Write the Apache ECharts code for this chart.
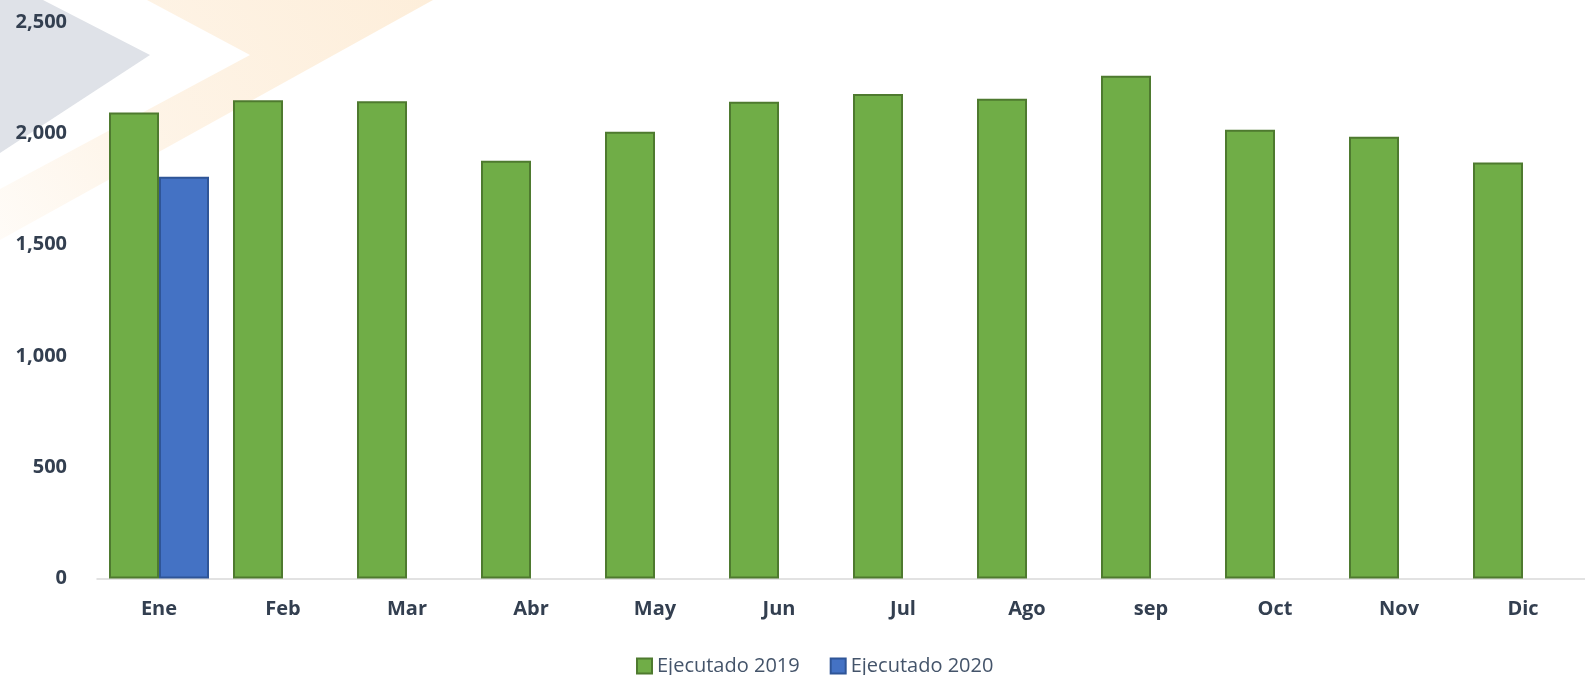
<!DOCTYPE html>
<html>
<head>
<meta charset="utf-8">
<script src="https://cdn.jsdelivr.net/npm/echarts@6/dist/echarts.min.js"></script>
<style>
  html, body { margin: 0; padding: 0; background: #ffffff; }
  #chart { width: 1585px; height: 675px; }
</style>
</head>
<body>
<div id="chart"></div>
<script>
var categories = ['Ene', 'Feb', 'Mar', 'Abr', 'May', 'Jun', 'Jul', 'Ago', 'sep', 'Oct', 'Nov', 'Dic'];
var ejecutado2019 = [2093, 2148, 2144, 1877, 2007, 2142, 2176, 2155, 2259, 2016, 1985, 1869];
var ejecutado2020 = [1805, null, null, null, null, null, null, null, null, null, null, null];
var seriesNames = ['Ejecutado 2019', 'Ejecutado 2020'];
var yMin = 0, yMax = 2500, yStep = 500;

var chart = echarts.init(document.getElementById('chart'), null, { renderer: 'canvas' });

function addCommas(v) {
  return String(v).replace(/\B(?=(\d{3})+(?!\d))/g, ',');
}

var option = {
  backgroundColor: '#ffffff',
  animation: false,
  graphic: [
    {
      type: 'polygon', z: -10, silent: true,
      shape: { points: [[0, 0], [43, 0], [150, 55], [0, 153]] },
      style: { fill: '#dfe2e8' }
    },
    {
      type: 'polygon', z: -10, silent: true,
      shape: { points: [[147, 0], [433, 0], [0, 240], [0, 189], [250, 55]] },
      style: {
        fill: {
          type: 'linear', x: 1, y: 0, x2: 0, y2: 1,
          colorStops: [
            { offset: 0, color: 'rgba(253,236,214,0.9)' },
            { offset: 0.6, color: 'rgba(253,236,214,0.6)' },
            { offset: 1, color: 'rgba(253,236,214,0.2)' }
          ]
        }
      }
    }
  ],
  grid: { left: 97, top: 22, width: 1503, height: 556.5, containLabel: false },
  legend: {
    left: 631,
    top: 651,
    itemWidth: 15,
    itemHeight: 15,
    itemGap: 30,
    icon: 'rect',
    textStyle: { fontFamily: 'Open Sans', fontSize: 20, color: '#44546A' },
    data: seriesNames
  },
  xAxis: {
    type: 'category',
    data: categories,
    axisLine: { show: true, lineStyle: { color: '#d9d9d9', width: 1.5 } },
    axisTick: { show: false },
    axisLabel: {
      margin: 21,
      fontFamily: 'Open Sans', fontSize: 20, fontWeight: 'bold', color: '#333F50'
    }
  },
  yAxis: {
    type: 'value',
    min: yMin, max: yMax, interval: yStep,
    axisLine: { show: false },
    axisTick: { show: false },
    splitLine: { show: false },
    axisLabel: {
      margin: 30,
      fontFamily: 'Open Sans', fontSize: 20, fontWeight: 'bold', color: '#333F50',
      formatter: function (v) { return addCommas(v); }
    }
  },
  series: [
    {
      name: seriesNames[0],
      type: 'bar',
      data: ejecutado2019,
      barWidth: 50,
      barGap: '0%',
      itemStyle: { color: '#70AD47', borderColor: '#4E7A2F', borderWidth: 2 }
    },
    {
      name: seriesNames[1],
      type: 'bar',
      data: ejecutado2020,
      barWidth: 50,
      barGap: '0%',
      itemStyle: { color: '#4472C4', borderColor: '#2F5597', borderWidth: 2 }
    }
  ]
};
chart.setOption(option);
</script>
</body>
</html>
